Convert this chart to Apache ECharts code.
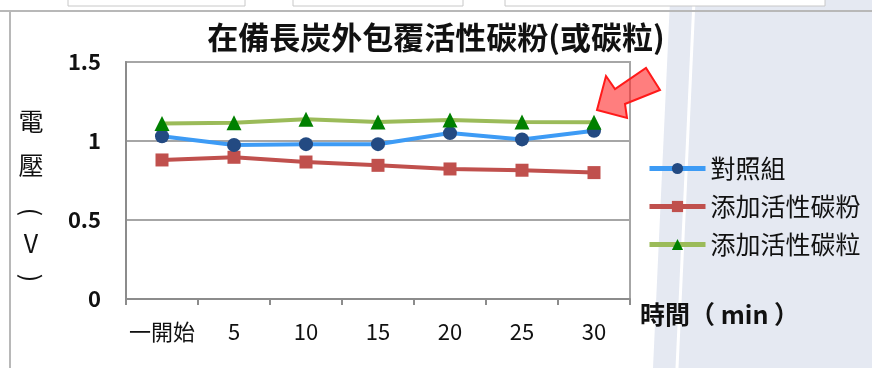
<!DOCTYPE html>
<html><head><meta charset="utf-8">
<script src="https://cdn.jsdelivr.net/npm/echarts@6/dist/echarts.min.js"></script>
<style>html,body{margin:0;padding:0;background:#fff}#c{width:872px;height:368px}</style>
</head><body><div id="c"></div>
<script>
const categories = ['一開始', '5', '10', '15', '20', '25', '30'];
const control = [1.03, 0.975, 0.98, 0.98, 1.05, 1.01, 1.065];
const powder = [0.88, 0.897, 0.867, 0.846, 0.823, 0.815, 0.80];
const granule = [1.11, 1.116, 1.137, 1.12, 1.133, 1.12, 1.118];
const seriesNames = ['對照組', '添加活性碳粉', '添加活性碳粒'];
const yTicks = [0, 0.5, 1, 1.5];

const FONT = '"Noto Sans CJK TC", "Noto Sans", sans-serif';
const chart = echarts.init(document.getElementById('c'));
function vt(text, x, y, rot) {
  return { type: 'text', x: x, y: y, rotation: rot || 0,
    style: { text: text, font: '25px ' + FONT, fill: '#111', align: 'center', verticalAlign: 'middle' } };
}
chart.setOption({
  backgroundColor: '#ffffff',
  animation: false,
  graphic: [
    { type: 'polygon', z: -10, shape: { points: [[670,0],[872,0],[872,368],[653,368]] }, style: { fill: '#e5e9f2' }, silent: true },
    { type: 'line', z: -9, shape: { x1: 694, y1: 0, x2: 677, y2: 368 }, style: { stroke: '#ffffff', lineWidth: 3 }, silent: true },
    { type: 'line', z: -8, shape: { x1: 0, y1: 11, x2: 872, y2: 11 }, style: { stroke: '#b8b8b8', lineWidth: 2 } },
    { type: 'line', z: -8, shape: { x1: 10, y1: 11, x2: 10, y2: 368 }, style: { stroke: '#b8b8b8', lineWidth: 2 } },
    { type: 'rect', z: -7, shape: { x: 68, y: -2, width: 177, height: 8 }, style: { fill: '#ffffff', stroke: '#c8c8c8' } },
    { type: 'rect', z: -7, shape: { x: 293, y: -2, width: 170, height: 8 }, style: { fill: '#ffffff', stroke: '#c8c8c8' } },
    { type: 'rect', z: -7, shape: { x: 505, y: -2, width: 320, height: 8 }, style: { fill: '#ffffff', stroke: '#c8c8c8' } },
    { type: 'polygon', z: 10, shape: { points: [[597,110],[606,76],[615,89],[646,68],[660,90],[625,104],[627,118]] },
      style: { fill: 'rgba(255,40,40,0.6)', stroke: '#ff1a1a', lineWidth: 2 } },
    vt('電', 31, 121), vt('壓', 31, 165), vt('(', 31, 212, -Math.PI / 2), vt('V', 31, 243), vt(')', 31, 278, -Math.PI / 2),
    { type: 'text', left: 640, top: 302, style: { text: '時間（ min ）', font: 'bold 25px ' + FONT, fill: '#111' } }
  ],
  title: {
    text: '在備長炭外包覆活性碳粉(或碳粒)',
    left: 431, top: 17, textAlign: 'center',
    textStyle: { fontFamily: FONT, fontSize: 31, fontWeight: 'bold', color: '#111' }
  },
  legend: {
    orient: 'vertical', left: 642, top: 151,
    itemWidth: 56, itemHeight: 14, itemGap: 13,
    lineStyle: { width: 5 },
    textStyle: { fontFamily: FONT, fontSize: 25, color: '#111' },
    data: seriesNames
  },
  grid: { left: 126, right: 242, top: 62, bottom: 69, show: true, borderColor: '#a6a6a6', borderWidth: 2, backgroundColor: 'transparent' },
  xAxis: {
    type: 'category', data: categories, boundaryGap: true,
    axisLine: { lineStyle: { color: '#8c8c8c', width: 2 } },
    axisTick: { show: true, length: 6, lineStyle: { color: '#8c8c8c', width: 2 } },
    axisLabel: { interval: 0, margin: 22, fontFamily: FONT, fontSize: 22, color: '#111' }
  },
  yAxis: {
    type: 'value', min: 0, max: 1.5, interval: 0.5,
    axisLine: { show: true, lineStyle: { color: '#8c8c8c', width: 2 } },
    axisTick: { show: false },
    splitLine: { lineStyle: { color: '#a6a6a6', width: 2 } },
    axisLabel: { margin: 25, fontFamily: FONT, fontSize: 22, fontWeight: 'bold', color: '#111',
      formatter: v => yTicks.includes(v) ? String(v) : '' }
  },
  series: [
    { name: seriesNames[0], type: 'line', data: control, symbol: 'circle', symbolSize: 14,
      lineStyle: { color: '#3d9bf5', width: 4 }, itemStyle: { color: '#234a82' }, color: '#3d9bf5', z: 3 },
    { name: seriesNames[1], type: 'line', data: powder, symbol: 'rect', symbolSize: 13,
      lineStyle: { color: '#c0504d', width: 4 }, itemStyle: { color: '#c0504d' }, color: '#c0504d', z: 2 },
    { name: seriesNames[2], type: 'line', data: granule, symbol: 'triangle', symbolSize: 15,
      lineStyle: { color: '#9bbb59', width: 4 }, itemStyle: { color: '#008000' }, color: '#9bbb59', z: 4 }
  ]
});
</script></body></html>
